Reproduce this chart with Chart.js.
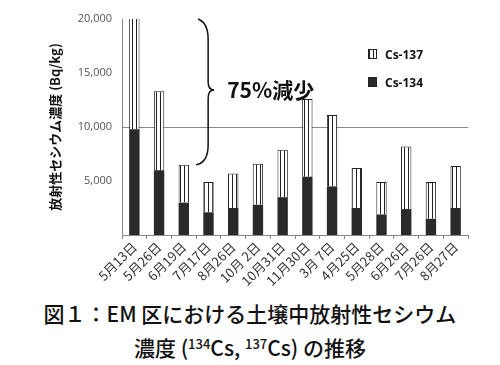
<!DOCTYPE html>
<html lang="ja">
<head>
  <meta charset="UTF-8" />
  <title>EM区における土壌中放射性セシウム濃度の推移</title>
  <script src="https://cdn.jsdelivr.net/npm/chart.js"></script>
  <style>
    body {
      margin: 0;
      padding: 0;
      background: #fff;
      font-family: 'Noto Sans CJK JP', sans-serif;
    }
    .wrap {
      position: relative;
      width: 500px;
      height: 295px;
    }
    .legend {
      position: absolute;
      left: 368px;
      top: 40px;
      font-family: 'Open Sans', sans-serif;
      font-weight: bold;
      font-size: 12px;
      color: #111;
    }
    .legend div {
      height: 28px;
      display: flex;
      align-items: center;
    }
    .legend span.box {
      display: inline-block;
      width: 7px;
      height: 8px;
      margin-right: 8px;
      border: 1px solid #222;
    }
    .striped {
      background: repeating-linear-gradient(90deg, #222 0 1px, #fff 1px 4px);
    }
    .caption {
      text-align: center;
      font-size: 21px;
      font-weight: 500;
      line-height: 34px;
      color: #111;
      margin-top: 1px;
    }
    .caption sup {
      font-size: 13px;
      vertical-align: 7px;
      line-height: 0;
    }
  </style>
</head>
<body>
  <div class="wrap">
    <canvas id="chart" width="500" height="295"></canvas>
    <div class="legend">
      <div><span class="box striped"></span>Cs-137</div>
      <div><span class="box" style="background:#2a2a2a"></span>Cs-134</div>
    </div>
  </div>
  <div class="caption">
    図１：EM 区における土壌中放射性セシウム<br>
    濃度 (<sup>134</sup>Cs, <sup>137</sup>Cs) の推移
  </div>

  <script>
    // 採取日
    const labels = ["5月13日", "5月26日", "6月19日", "7月17日", "8月26日", "10月 2日", "10月31日",
                    "11月30日", "3月 7日", "4月25日", "5月28日", "6月26日", "7月26日", "8月27日"];
    // Bq/kg
    const cs134 = [9800, 6000, 3000, 2100, 2500, 2800, 3500, 5400, 4500, 2500, 1900, 2400, 1500, 2500];
    const cs137 = [14000, 7300, 3500, 2800, 3200, 3800, 4400, 7200, 6600, 3700, 3000, 5800, 3400, 3900];
    const yTicks = [5000, 10000, 15000, 20000];

    // 縦縞パターン
    const pc = document.createElement("canvas");
    pc.width = 4;
    pc.height = 1;
    const pctx = pc.getContext("2d");
    pctx.fillStyle = "#fff";
    pctx.fillRect(0, 0, 4, 1);
    pctx.fillStyle = "#222";
    pctx.fillRect(0, 0, 1, 1);
    const stripe = document.getElementById("chart").getContext("2d").createPattern(pc, "repeat");

    // 75%減少 の括弧
    const bracePlugin = {
      id: "brace",
      afterDraw(chart) {
        const ctx = chart.ctx;
        const x = chart.scales.x.getPixelForValue(2.5) + 1;
        const y = chart.scales.y;
        const top = y.top;
        const bottom = y.getPixelForValue(cs134[2] + cs137[2]);
        const mid = 90;
        ctx.save();
        ctx.strokeStyle = "#111";
        ctx.lineWidth = 1.5;
        ctx.beginPath();
        ctx.moveTo(x + 1, top);
        ctx.quadraticCurveTo(x + 11, top + 4, x + 11, top + 20);
        ctx.lineTo(x + 11, mid - 8);
        ctx.quadraticCurveTo(x + 11, mid, x + 17, mid);
        ctx.quadraticCurveTo(x + 11, mid, x + 11, mid + 8);
        ctx.lineTo(x + 11, bottom - 20);
        ctx.quadraticCurveTo(x + 11, bottom - 2, x - 1, bottom);
        ctx.stroke();
        ctx.fillStyle = "#111";
        ctx.font = "bold 21px 'Noto Sans CJK JP'";
        ctx.textBaseline = "middle";
        ctx.fillText("75%減少", x + 30, mid);
        ctx.restore();
      }
    };

    new Chart(document.getElementById("chart"), {
      type: "bar",
      data: {
        labels: labels,
        datasets: [{
          label: "Cs-134",
          data: cs134,
          backgroundColor: "#2a2a2a",
          borderColor: "#2a2a2a",
          borderWidth: 0
        }, {
          label: "Cs-137",
          data: cs137,
          backgroundColor: stripe,
          borderColor: "#222",
          borderWidth: 1,
          borderSkipped: "bottom"
        }]
      },
      options: {
        responsive: false,
        animation: false,
        layout: { padding: { left: 47, right: 32, top: 19, bottom: 0 } },
        datasets: { bar: { barPercentage: 0.42, categoryPercentage: 1 } },
        plugins: {
          legend: { display: false },
          tooltip: { enabled: false }
        },
        scales: {
          x: {
            stacked: true,
            afterFit(s) { s.height = 60; },
            grid: {
              offset: true,
              drawOnChartArea: false,
              color: "#888",
              tickLength: 4
            },
            border: { color: "#888" },
            ticks: {
              maxRotation: 45,
              minRotation: 45,
              autoSkip: false,
              padding: 0,
              color: "#333",
              font: { family: "'Noto Sans CJK JP'", size: 13 }
            }
          },
          y: {
            stacked: true,
            min: 0,
            max: 20000,
            afterFit(s) { s.width = 75; },
            afterBuildTicks(s) { s.ticks = yTicks.map(v => ({ value: v })); },
            grid: {
              drawTicks: false,
              color: ctx => ctx.tick && ctx.tick.value === 10000 ? "#888" : "rgba(0,0,0,0)"
            },
            border: { color: "#888" },
            ticks: {
              padding: 10,
              color: "#555",
              font: { family: "'Open Sans'", size: 11 },
              callback: v => v.toLocaleString("en-US")
            },
            title: {
              display: true,
              text: "放射性セシウム濃度 (Bq/kg)",
              color: "#111",
              padding: 0,
              font: { family: "'Noto Sans CJK JP'", size: 13, weight: "bold" }
            }
          }
        }
      },
      plugins: [bracePlugin]
    });
  </script>
</body>
</html>
